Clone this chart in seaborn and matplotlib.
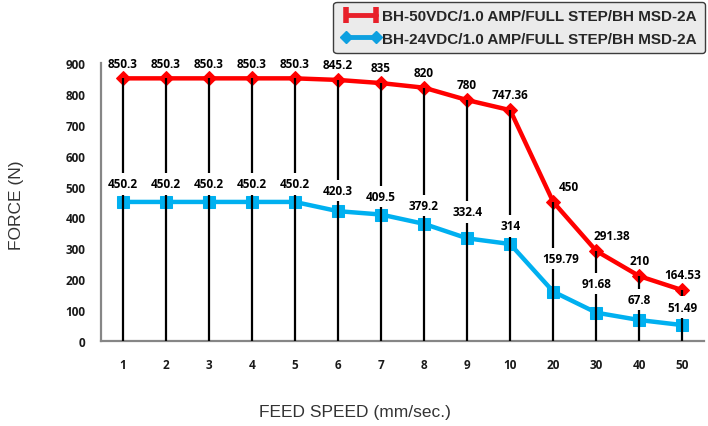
import numpy as np
import pandas as pd
import matplotlib
matplotlib.use("Agg")
import matplotlib.pyplot as plt
from matplotlib.lines import Line2D
import seaborn as sns

# chart data
speeds = ['1', '2', '3', '4', '5', '6', '7', '8', '9', '10', '20', '30', '40', '50']
force_50vdc = [850.3, 850.3, 850.3, 850.3, 850.3, 845.2, 835, 820, 780, 747.36,
               450, 291.38, 210, 164.53]
force_24vdc = [450.2, 450.2, 450.2, 450.2, 450.2, 420.3, 409.5, 379.2, 332.4, 314,
               159.79, 91.68, 67.8, 51.49]
series_names = ['BH-50VDC/1.0 AMP/FULL STEP/BH MSD-2A',
                'BH-24VDC/1.0 AMP/FULL STEP/BH MSD-2A']

RED = '#ff0000'
BLUE = '#00b0f0'
GRAY = '#868686'

df = pd.DataFrame({'pos': np.arange(len(speeds)), 'speed': speeds,
                   'f50': force_50vdc, 'f24': force_24vdc})

sns.set_style('white')
plt.rcParams['font.family'] = ['Open Sans', 'DejaVu Sans']

fig = plt.figure(figsize=(7.08, 4.27), dpi=100)
ax = fig.add_axes([101 / 708, 1 - 342 / 427, 603 / 708, 278 / 427])

sns.lineplot(data=df, x='pos', y='f50', ax=ax, color=RED, linewidth=3.2,
             marker='D', markersize=7, markeredgecolor=RED, zorder=3)
sns.lineplot(data=df, x='pos', y='f24', ax=ax, color=BLUE, linewidth=3.2,
             marker='s', markersize=8, markeredgecolor=BLUE, zorder=3)

# drop lines from the axis to the upper series
ax.vlines(df['pos'], 0, df['f50'], color='black', linewidth=1.6, zorder=4)

# data labels (small nudges where the original chart moved them)
red_nudge = {'20': 11, '30': 11}
blue_nudge = {'6': (0, 15), '9': (0, 19), '20': (5, 24), '30': (0, 21),
              '40': (0, 15)}
for i, row in df.iterrows():
    ax.annotate(f"{row['f50']:g}", (row['pos'], row['f50']),
                xytext=(red_nudge.get(row['speed'], 0), 11),
                textcoords='offset points',
                ha='center', va='center', fontsize=8.5, fontweight='bold',
                color='black', zorder=6)
    dx, dy = blue_nudge.get(row['speed'], (0, 13))
    ax.annotate(f"{row['f24']:g}", (row['pos'], row['f24']),
                xytext=(dx, dy), textcoords='offset points',
                ha='center', va='center', fontsize=8.5, fontweight='bold',
                color='black', zorder=6,
                bbox=dict(boxstyle='square,pad=0.35', fc='white', ec='none'))

ax.set_xlim(-0.5, len(speeds) - 0.5)
ax.set_ylim(0, 900)
ax.set_yticks(np.arange(0, 901, 100))
ax.set_xticks(df['pos'])
ax.set_xticklabels(speeds)
ax.set_xticks(np.arange(-0.5, len(speeds)), minor=True)
ax.tick_params(axis='x', which='major', length=0, pad=12)
ax.tick_params(axis='x', which='minor', length=4, width=1.2, color=GRAY,
               direction='out')
ax.tick_params(axis='y', length=4, width=1.2, color=GRAY, direction='out', pad=7)
for lab in ax.get_xticklabels() + ax.get_yticklabels():
    lab.set_fontweight('bold')
    lab.set_fontsize(8.5)
    lab.set_color('#1a1a1a')

for side in ['top', 'right']:
    ax.spines[side].set_visible(False)
for side in ['left', 'bottom']:
    ax.spines[side].set_color(GRAY)
    ax.spines[side].set_linewidth(1.6)

ax.set_xlabel('FEED SPEED (mm/sec.)', fontsize=12.5, family='Liberation Sans',
              color='#333333', va='center')
ax.xaxis.set_label_coords((355 - 101) / 603, (342 - 413) / 278)
ax.set_ylabel('FORCE (N)', fontsize=12.5, family='Liberation Sans',
              color='#333333', va='center')
ax.yaxis.set_label_coords((17 - 101) / 603, (342 - 205) / 278)

handles = [
    Line2D([], [], color='#e8202a', linewidth=3.5, marker='|', markersize=11,
           markeredgewidth=4),
    Line2D([], [], color='#0ea0e0', linewidth=3.5, marker='D', markersize=6.5),
]
leg = fig.legend(handles, series_names, loc='upper right',
                 bbox_to_anchor=(1.006, 1.012), numpoints=2, frameon=True,
                 prop={'family': 'Liberation Sans', 'weight': 'bold', 'size': 11},
                 handlelength=2.6, handletextpad=0.1, labelspacing=0.55,
                 borderpad=0.5, fancybox=True)
leg.get_frame().set_facecolor('#ebebeb')
leg.get_frame().set_edgecolor('#3c3c3c')
leg.get_frame().set_linewidth(1.0)
leg.get_frame().set_alpha(1)
for t in leg.get_texts():
    t.set_color('#262626')

fig.savefig('out.png', dpi=100)
